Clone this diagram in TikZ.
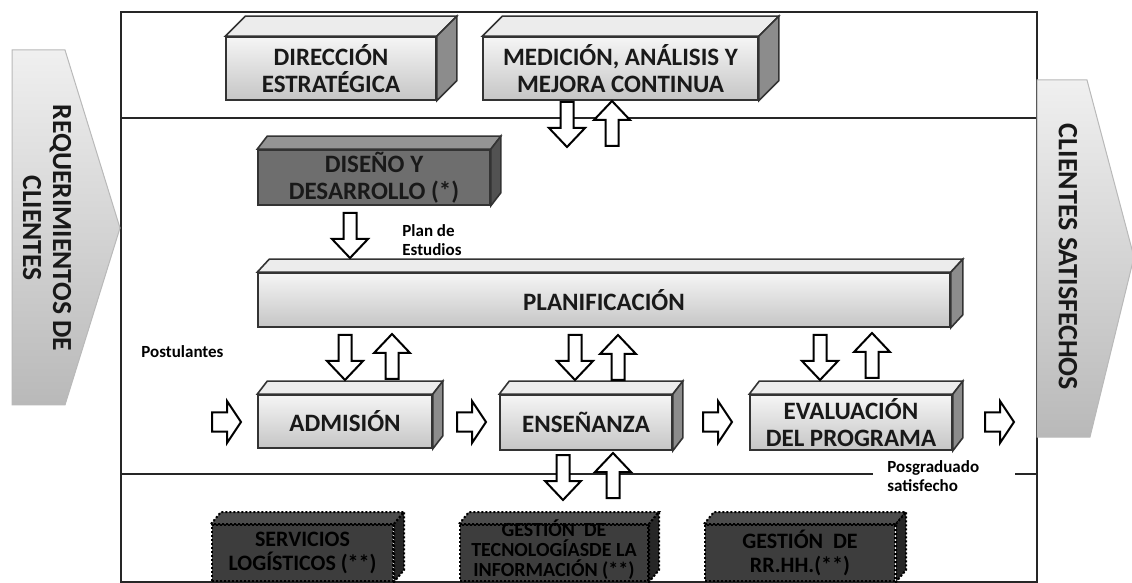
\documentclass[tikz,border=0pt]{standalone}
\usepackage{fontspec}
\setmainfont{Carlito}
\usetikzlibrary{calc}
\newcommand{\cubo}[9]{%
  \node[#8front, minimum width={#4*0.5pt}, minimum height={#5*0.5pt}] (#1) at (#2,#3) {#9};
  \draw[#8top] (#1.north west) -- ++(#6,#7) -- ($(#1.north east)+(#6,#7)$) -- (#1.north east) -- cycle;
  \draw[#8side] (#1.north east) -- ++(#6,#7) -- ($(#1.south east)+(#6,#7)$) -- (#1.south east) -- cycle;
}
\tikzset{
  boxtxt/.style={align=center, font=\fontsize{12.5}{13.5}\selectfont\bfseries, text=black!90, inner sep=0pt},
  lightfront/.style={boxtxt, draw=black!80, line width=0.8pt, top color=gray!8, bottom color=gray!45},
  lighttop/.style={draw=black!80, line width=0.8pt, fill=gray!15},
  lightside/.style={draw=black!80, line width=0.8pt, fill=black!45},
  darkfront/.style={boxtxt, draw=black!80, line width=0.8pt, fill=black!57},
  darktop/.style={draw=black!80, line width=0.8pt, fill=black!42},
  darkside/.style={draw=black!80, line width=0.8pt, fill=black!68},
  supfront/.style={boxtxt, font=\fontsize{11}{12}\selectfont\bfseries, draw=black, densely dotted, line width=1pt, fill=black!76, text=black},
  suptop/.style={draw=black, densely dotted, line width=1pt, fill=black!70},
  supside/.style={draw=black, densely dotted, line width=1pt, fill=black!85},
  blockarr/.style={draw=black, line width=1pt, fill=white, line join=miter},
  framel/.style={draw=black!85, line width=0.9pt},
  bigarr/.style={draw=gray!55, line width=0.5pt, top color=gray!12, bottom color=gray!55},
  lbl/.style={font=\fontsize{8.5}{9.5}\selectfont\bfseries, align=left, inner sep=0pt},
  darr/.pic={\draw[blockarr] (-6.5,0) -- (-6.5,26) -- (-18,26) -- (0,45) -- (18,26) -- (6.5,26) -- (6.5,0) -- cycle;},
  uarr/.pic={\draw[blockarr] (-6.5,45) -- (-6.5,19) -- (-18,19) -- (0,0) -- (18,19) -- (6.5,19) -- (6.5,45) -- cycle;},
  rarr/.pic={\draw[blockarr] (0,-9.5) -- (15,-9.5) -- (15,-21) -- (29,0) -- (15,21) -- (15,9.5) -- (0,9.5) -- cycle;}
}
\begin{document}
\begin{tikzpicture}[x=0.5pt, y=-0.5pt]
\useasboundingbox (0,0) rectangle (1132,583);
\clip (0,0) rectangle (1132,583);
% frame
\draw[framel] (121,12) rectangle (1037,582);
\draw[framel] (121,118) -- (1037,118);
\draw[framel] (121,474) -- (873,474);
\draw[framel] (1015,474) -- (1037,474);
% big side arrows
\path[bigarr] (12,50) -- (65,50) -- (120,228) -- (65,405) -- (12,405) -- cycle;
\node[rotate=-90, align=center, font=\fontsize{13.8}{15}\selectfont\bfseries, text=black!90] (req) at (47,228) {REQUERIMIENTOS DE\\CLIENTES};
\path[bigarr] (1037,80) -- (1087,80) -- (1134,257) -- (1090,437) -- (1037,437) -- cycle;
\node[rotate=-90, font=\fontsize{14}{15}\selectfont\bfseries, text=black!90] (cli) at (1068,257) {CLIENTES SATISFECHOS};
% labels
\node[lbl, anchor=north west] (plan) at (402,224) {Plan de\\Estudios};
\node[lbl, anchor=west] (post) at (141,352) {Postulantes};
\node[lbl, anchor=west] (posg) at (887,476) {Posgraduado\\satisfecho};
% boxes
\cubo{dir}{331}{68.5}{210}{63}{20}{-20}{light}{DIRECCIÓN\\ESTRATÉGICA}
\cubo{med}{620.5}{68.5}{275}{63}{20}{-20}{light}{MEDICIÓN, ANÁLISIS Y\\MEJORA CONTINUA}
\cubo{dis}{374}{177.5}{232}{55}{10}{-13}{dark}{DISEÑO Y\\DESARROLLO (*)}
\cubo{pla}{604}{300}{692}{54}{12}{-13}{light}{PLANIFICACIÓN}
\cubo{adm}{345}{421.5}{174}{53}{10}{-13}{light}{ADMISIÓN}
\cubo{ens}{586}{422.5}{172}{55}{10}{-13}{light}{ENSEÑANZA}
\cubo{eva}{851}{422.5}{202}{55}{10}{-13}{light}{EVALUACIÓN\\DEL PROGRAMA}
\cubo{ser}{302.5}{553}{181}{56}{10}{-12}{sup}{SERVICIOS\\LOGÍSTICOS (**)}
\cubo{gti}{554}{553}{188}{56}{10}{-12}{sup}{}
\node[align=center, inner sep=0pt, font=\fontsize{10}{10}\selectfont\bfseries, text=black] (gtit) at (554,550) {GESTIÓN \ DE\\TECNOLOGÍASDE LA\\INFORMACIÓN (**)};
\cubo{grh}{800}{553}{190}{56}{10}{-12}{sup}{GESTIÓN \ DE\\RR.HH.(**)}
% block arrows
\pic at (567,102) {darr};
\pic at (612,101) {uarr};
\pic at (350,213) {darr};
\pic at (345,335) {darr};
\pic at (392,334) {uarr};
\pic at (575,335) {darr};
\pic at (618,335) {uarr};
\pic at (820,335) {darr};
\pic at (872,333) {uarr};
\pic at (563,455) {darr};
\pic at (613,453) {uarr};
\pic at (212,422) {rarr};
\pic at (457,422) {rarr};
\pic at (703,422) {rarr};
\pic at (985,422) {rarr};
\end{tikzpicture}
\end{document}
